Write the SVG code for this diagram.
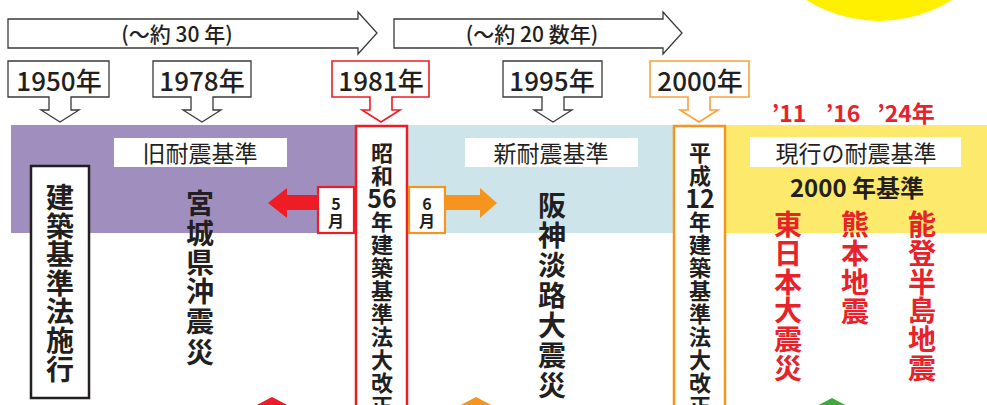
<svg xmlns="http://www.w3.org/2000/svg" width="987" height="405" viewBox="0 0 987 405">
<style>
text{font-family:"Noto Sans CJK JP","Noto Sans",sans-serif;fill:#231f20;text-anchor:middle;dominant-baseline:central}
.span{fill:#fff;stroke:#3a3a3a;stroke-width:1.3}
.span-t{font-size:21px;font-weight:500}
.yr{fill:#fff;stroke:#3a3a3a;stroke-width:1.3}
.yr-t{font-size:26px;font-weight:500}
.lbl{fill:#fff}
.lbl-t{font-size:23px;font-weight:400}
.vt{font-size:22px;font-weight:700}
.big{font-size:28px;font-weight:700}
.red{fill:#e8222a}
.mo{font-size:16px;font-weight:700}
</style>
<circle id="sun" cx="879" cy="-116" r="137" fill="#fff000"/>
<g id="bands">
<rect x="11" y="125" width="346" height="108" fill="#a08fbe"/>
<rect x="407" y="125" width="268" height="108" fill="#cde5ea"/>
<rect x="725" y="125" width="262" height="108" fill="#fde96b"/>
</g>
<g id="span-30">
<path class="span" d="M8,19 H358 V12 L377,33 L358,54 V48 H8 Z"/>
<text class="span-t" x="177" y="33">(〜約 30 年)</text>
</g>
<g id="span-20">
<path class="span" d="M394,19 H663 V12 L682,33 L663,54 V48 H394 Z"/>
<text class="span-t" x="532" y="33">(〜約 20 数年)</text>
</g>
<g id="old-standard">
<rect class="lbl" x="114" y="138" width="173" height="29"/>
<text class="lbl-t" x="200" y="152">旧耐震基準</text>
</g>
<g id="new-standard">
<rect class="lbl" x="465" y="138" width="173" height="29"/>
<text class="lbl-t" x="551" y="152">新耐震基準</text>
</g>
<g id="current-standard">
<rect class="lbl" x="750" y="137" width="211" height="30"/>
<text class="lbl-t" x="856" y="152">現行の耐震基準</text>
<text x="857" y="186" style="font-size:24px;font-weight:700">2000 年基準</text>
</g>
<g id="y1950">
<path class="yr" d="M8,61 H109 V97 H71 V110 H79 L60,122 L41,110 H49 V97 H8 Z"/>
<text class="yr-t" x="59" y="79">1950年</text>
</g>
<g id="y1978">
<path class="yr" d="M153,61 H251 V97 H213 V110 H221 L202,122 L183,110 H191 V97 H153 Z"/>
<text class="yr-t" x="202" y="79">1978年</text>
</g>
<g id="y1981">
<path class="yr" style="stroke:#ee1c25;stroke-width:1.6" d="M332,61 H429 V97 H392 V110 H400 L381,122 L362,110 H370 V97 H332 Z"/>
<text class="yr-t" x="381" y="79">1981年</text>
</g>
<g id="y1995">
<path class="yr" d="M503,61 H602 V97 H564 V110 H572 L553,122 L534,110 H542 V97 H503 Z"/>
<text class="yr-t" x="552" y="79">1995年</text>
</g>
<g id="y2000">
<path class="yr" style="stroke:#f9a13a;stroke-width:1.6" d="M650,61 H749 V97 H710 V110 H718 L699,122 L680,110 H688 V97 H650 Z"/>
<text class="yr-t" x="700" y="79">2000年</text>
</g>
<g id="law-1950">
<rect x="31" y="166" width="58" height="232" fill="#fff" stroke="#231f20" stroke-width="2.5"/>
<text class="big"><tspan x="60" y="196">建</tspan><tspan x="60" y="225">築</tspan><tspan x="60" y="253">基</tspan><tspan x="60" y="282">準</tspan><tspan x="60" y="310">法</tspan><tspan x="60" y="339">施</tspan><tspan x="60" y="368">行</tspan></text>
</g>
<g id="miyagi">
<text class="big"><tspan x="200" y="202">宮</tspan><tspan x="200" y="232">城</tspan><tspan x="200" y="261">県</tspan><tspan x="200" y="290">沖</tspan><tspan x="200" y="320">震</tspan><tspan x="200" y="351">災</tspan></text>
</g>
<g id="law-1981">
<rect x="356" y="126" width="51" height="290" fill="#fff" stroke="#ee1c25" stroke-width="2.5"/>
<text class="vt"><tspan x="382" y="151">昭</tspan><tspan x="382" y="174">和</tspan><tspan x="382" y="197" style="font-size:25px">56</tspan><tspan x="382" y="220">年</tspan><tspan x="382" y="243">建</tspan><tspan x="382" y="266">築</tspan><tspan x="382" y="289">基</tspan><tspan x="382" y="312">準</tspan><tspan x="382" y="335">法</tspan><tspan x="382" y="358">大</tspan><tspan x="382" y="381">改</tspan><tspan x="382" y="404">正</tspan></text>
</g>
<g id="hanshin">
<text class="big"><tspan x="552" y="204">阪</tspan><tspan x="552" y="234">神</tspan><tspan x="552" y="264">淡</tspan><tspan x="552" y="294">路</tspan><tspan x="552" y="324">大</tspan><tspan x="552" y="354">震</tspan><tspan x="552" y="384">災</tspan></text>
</g>
<g id="law-2000">
<rect x="674" y="126" width="51" height="290" fill="#fff" stroke="#f7941d" stroke-width="2.5"/>
<text class="vt"><tspan x="700" y="151">平</tspan><tspan x="700" y="174">成</tspan><tspan x="700" y="197" style="font-size:25px">12</tspan><tspan x="700" y="220">年</tspan><tspan x="700" y="243">建</tspan><tspan x="700" y="266">築</tspan><tspan x="700" y="289">基</tspan><tspan x="700" y="312">準</tspan><tspan x="700" y="335">法</tspan><tspan x="700" y="358">大</tspan><tspan x="700" y="381">改</tspan><tspan x="700" y="404">正</tspan></text>
</g>
<g id="years-recent">
<text class="red" x="789" y="112" style="font-size:23px;font-weight:700">’11</text>
<text class="red" x="843" y="112" style="font-size:23px;font-weight:700">’16</text>
<text class="red" x="906" y="112" style="font-size:23px;font-weight:700">’24年</text>
</g>
<g id="tohoku">
<text class="big red"><tspan x="788" y="223">東</tspan><tspan x="788" y="252">日</tspan><tspan x="788" y="281">本</tspan><tspan x="788" y="309">大</tspan><tspan x="788" y="338">震</tspan><tspan x="788" y="367">災</tspan></text>
</g>
<g id="kumamoto">
<text class="big red"><tspan x="855" y="223">熊</tspan><tspan x="855" y="252">本</tspan><tspan x="855" y="281">地</tspan><tspan x="855" y="310">震</tspan></text>
</g>
<g id="noto">
<text class="big red"><tspan x="922" y="223">能</tspan><tspan x="922" y="252">登</tspan><tspan x="922" y="281">半</tspan><tspan x="922" y="309">島</tspan><tspan x="922" y="338">地</tspan><tspan x="922" y="367">震</tspan></text>
</g>
<g id="connectors">
<path d="M320,195 H287 V188 L268,203 L287,218 V210 H320 Z" fill="#ee1c25"/>
<path d="M445,195 H480 V188 L497,203 L480,218 V210 H445 Z" fill="#f7941d"/>
<path d="M272,397 L312,418 L232,418 Z" fill="#ee1c25"/>
<path d="M476,397 L516,418 L436,418 Z" fill="#f7941d"/>
<path d="M832,398 L872,419 L792,419 Z" fill="#3cab3a"/>
</g>
<g id="may">
<rect x="318" y="187" width="36" height="46" fill="#fff" stroke="#ee1c25" stroke-width="2.2"/>
<text class="mo"><tspan x="336" y="203">5</tspan><tspan x="336" y="220">月</tspan></text>
</g>
<g id="june">
<rect x="409" y="187" width="36" height="46" fill="#fff" stroke="#f7941d" stroke-width="2.2"/>
<text class="mo"><tspan x="427" y="203">6</tspan><tspan x="427" y="220">月</tspan></text>
</g>
</svg>
